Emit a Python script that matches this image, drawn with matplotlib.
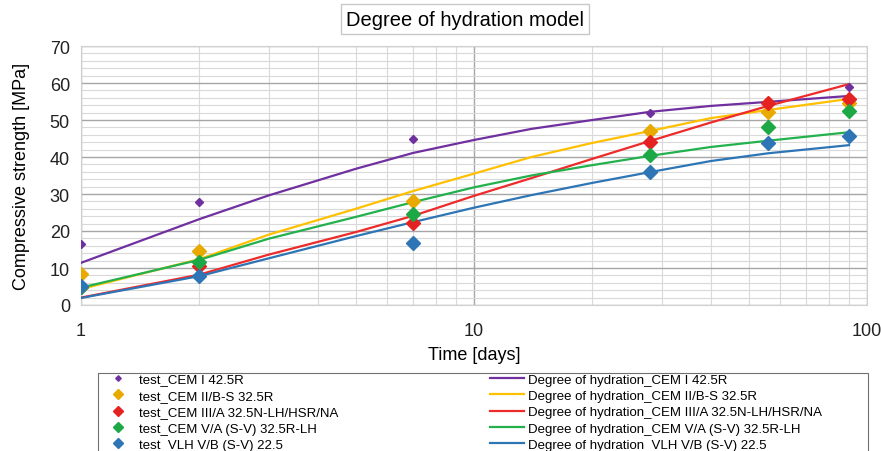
import matplotlib
matplotlib.use("Agg")
import matplotlib.pyplot as plt
from matplotlib.patches import Rectangle
from matplotlib.ticker import FixedLocator, MultipleLocator, NullFormatter

# test ages (days) and measured strengths
test_days = [1, 2, 7, 28, 56, 90]
test_cem1 = [16.5, 27.8, 44.9, 51.9, 54.8, 58.8]
test_cem2 = [8.4, 14.6, 28.1, 47.0, 52.1, 54.5]
test_cem3 = [5.0, 10.5, 22.2, 44.1, 54.6, 55.8]
test_cem5 = [5.0, 11.6, 24.6, 40.5, 48.1, 52.4]
test_vlh = [5.1, 7.9, 16.8, 35.9, 43.8, 45.7]

# degree of hydration model
model_days = [1, 2, 3, 5, 7, 10, 14, 20, 28, 40, 56, 90]
model_cem1 = [11.4, 23.2, 29.6, 36.8, 41.1, 44.6, 47.6, 50.0, 52.2, 53.8, 54.9, 56.5]
model_cem2 = [4.3, 12.4, 19.0, 26.0, 30.8, 35.5, 40.0, 43.8, 47.0, 50.5, 52.7, 55.7]
model_cem3 = [2.0, 8.2, 13.6, 19.7, 24.1, 29.5, 34.3, 39.5, 44.3, 49.3, 53.8, 59.7]
model_cem5 = [4.7, 12.2, 17.9, 23.8, 27.8, 31.8, 35.0, 37.8, 40.3, 42.7, 44.4, 46.7]
model_vlh = [1.9, 7.8, 12.6, 18.6, 22.4, 26.3, 29.7, 33.0, 35.9, 38.9, 41.0, 43.2]

names = ["CEM I 42.5R", "CEM II/B-S 32.5R", "CEM III/A 32.5N-LH/HSR/NA",
         "CEM V/A (S-V) 32.5R-LH", "VLH V/B (S-V) 22.5"]
tests = [test_cem1, test_cem2, test_cem3, test_cem5, test_vlh]
models = [model_cem1, model_cem2, model_cem3, model_cem5, model_vlh]
line_colors = ["#7030A0", "#FFC000", "#EE2A2A", "#22B14C", "#2E75B6"]
marker_colors = ["#7030A0", "#E8AA00", "#E52222", "#1DA846", "#2E75B6"]
marker_sizes = [4, 7, 7, 7, 7]

plt.rcParams["font.family"] = ["Liberation Sans", "DejaVu Sans"]

fig = plt.figure(figsize=(8.81, 4.52), dpi=100)
ax = fig.add_axes([81 / 881, 1 - 306 / 452, 786 / 881, 259 / 452])

ax.set_xscale("log")
ax.set_xlim(1, 100)
ax.set_ylim(0, 70)

# grid
ax.yaxis.set_major_locator(MultipleLocator(10))
ax.yaxis.set_minor_locator(MultipleLocator(2))
ax.xaxis.set_major_locator(FixedLocator([1, 10, 100]))
ax.xaxis.set_minor_locator(FixedLocator([2, 3, 4, 5, 6, 7, 8, 9, 20, 30, 40, 50, 60, 70, 80, 90]))
ax.xaxis.set_minor_formatter(NullFormatter())
ax.set_xticklabels(["1", "10", "100"])
ax.grid(which="major", color="#a6a6a6", linewidth=1.0)
ax.grid(which="minor", color="#d9d9d9", linewidth=0.8)
ax.set_axisbelow(True)
ax.tick_params(which="both", length=0, labelsize=13, colors="#222222")
ax.tick_params(axis="x", pad=12)
ax.tick_params(axis="y", pad=8)
for s in ax.spines.values():
    s.set_color("#d0d0d0")

handles_t = []
handles_m = []
for i in range(5):
    h, = ax.plot(test_days, tests[i], linestyle="none", marker="D",
                 ms=marker_sizes[i], color=marker_colors[i], zorder=4,
                 label="test_" + names[i])
    handles_t.append(h)
for i in range(5):
    h, = ax.plot(model_days, models[i], color=line_colors[i], lw=1.6, zorder=3,
                 label="Degree of hydration_" + names[i])
    handles_m.append(h)

ax.set_xlabel("Time [days]", fontsize=13, labelpad=5)
ax.set_ylabel("Compressive strength [MPa]", fontsize=13, labelpad=14)

fig.text(465 / 881, 1 - 20 / 452, "Degree of hydration model", fontsize=14.5,
         ha="center", va="center",
         bbox=dict(boxstyle="square,pad=0.25", facecolor="white", edgecolor="#c8c8c8"))

# legend box runs past the bottom edge like in the source figure
fig.patches.append(Rectangle((98 / 881, -0.05), 770 / 881, 0.05 + 78 / 452,
                             transform=fig.transFigure, facecolor="white",
                             edgecolor="#707070", linewidth=0.8, zorder=1))

leg = fig.legend(handles_t + handles_m, [h.get_label() for h in handles_t + handles_m],
                 ncol=2, loc="upper left", bbox_to_anchor=(98 / 881, 1 - 371 / 452),
                 frameon=False, handlelength=2.6, handletextpad=0.25, labelspacing=0.31,
                 columnspacing=11.5, borderpad=0.25, borderaxespad=0, markerscale=0.7,
                 prop={"family": ["Liberation Sans", "DejaVu Sans"], "size": 9.5})
leg.set_zorder(2)

fig.savefig("out.png", dpi=100)
